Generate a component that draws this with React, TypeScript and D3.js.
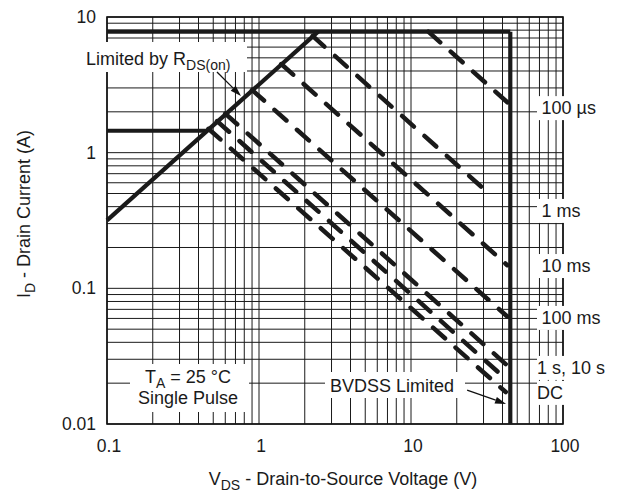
import React from 'react';
import * as d3 from 'd3';

const width = 618;
const height = 495;
const plot = { left: 107, right: 563, top: 17, bottom: 424 };
const font = '"Liberation Sans", Arial, Helvetica, sans-serif';

// axis ranges and tick labels
const xDomain: [number, number] = [0.1, 100];
const yDomain: [number, number] = [0.01, 10];
const xTickValues = [0.1, 1, 10, 100];
const xTickLabels = ['0.1', '1', '10', '100'];
const yTickValues = [10, 1, 0.1, 0.01];
const yTickLabels = ['10', '1', '0.1', '0.01'];

// solid limit lines, points are [Vds (V), Id (A)]
const currentLimitTop = [[0.1, 7.8], [45, 7.8]];
const bvdssLimit = [[45, 7.8], [45, 0.01]];
const currentLimitLow = [[0.1, 1.45], [0.457, 1.45]];
const rdsOnLimit = [[0.1, 0.317], [2.45, 7.8]];

// pulse lines (dashed)
const pulseNames = ['100 µs', '1 ms', '10 ms', '100 ms', '1 s', '10 s', 'DC'];
const pulseStart = [[13, 7.8], [2.25, 7.25], [1.4, 4.5], [0.9, 2.9], [0.6, 1.94], [0.53, 1.71], [0.465, 1.5]];
const pulseEnd = [[44, 2.3], [30.7, 0.53], [43, 0.148], [43, 0.062], [43, 0.027], [43, 0.021], [42, 0.0172]];

// labels at the right side, placed at Id
const curveLabels = ['100 µs', '1 ms', '10 ms', '100 ms', '1 s, 10 s', 'DC'];
const curveLabelId = [2.13, 0.372, 0.146, 0.0605, 0.0259, 0.01695];

// annotation arrows
const rdsArrow = [[0.529, 3.93], [0.761, 2.62]];
const bvdssArrow = [[23.4, 0.0178], [42.2, 0.01406]];

const x = d3.scaleLog().domain(xDomain).range([plot.left, plot.right]);
const y = d3.scaleLog().domain(yDomain).range([plot.bottom, plot.top]);

const line = d3
  .line<number[]>()
  .x((d) => x(d[0]))
  .y((d) => y(d[1]));

const Arrow = ({ pts }: { pts: number[][] }) => {
  const x1 = x(pts[0][0]);
  const y1 = y(pts[0][1]);
  const x2 = x(pts[1][0]);
  const y2 = y(pts[1][1]);
  const a = Math.atan2(y2 - y1, x2 - x1);
  const len = 11;
  const half = 3.5;
  const bx = x2 - len * Math.cos(a);
  const by = y2 - len * Math.sin(a);
  const head = [
    [x2, y2],
    [bx + half * Math.sin(a), by - half * Math.cos(a)],
    [bx - half * Math.sin(a), by + half * Math.cos(a)],
  ];
  return (
    <g>
      <line x1={x1} y1={y1} x2={bx} y2={by} stroke="#111" strokeWidth={1.3} />
      <polygon points={head.map((p) => p.join(',')).join(' ')} fill="#111" />
    </g>
  );
};

export default function App() {
  const xGrid = x.ticks();
  const yGrid = y.ticks();

  return (
    <svg
      width={width}
      height={height}
      style={{ position: 'absolute', left: 0, top: 0, background: '#fff' }}
      fontFamily={font}
    >
      <rect x={0} y={0} width={width} height={height} fill="#fff" />
      {/* grid */}
      <g stroke="#1a1a1a" strokeWidth={1}>
        {xGrid.map((v, i) => (
          <line key={'gx' + i} x1={x(v)} x2={x(v)} y1={plot.top} y2={plot.bottom} />
        ))}
        {yGrid.map((v, i) => (
          <line key={'gy' + i} x1={plot.left} x2={plot.right} y1={y(v)} y2={y(v)} />
        ))}
      </g>
      <rect
        x={plot.left}
        y={plot.top}
        width={plot.right - plot.left}
        height={plot.bottom - plot.top}
        fill="none"
        stroke="#111"
        strokeWidth={1.6}
      />

      {/* white label boxes */}
      <g fill="#fff">
        <rect x={82} y={42} width={165} height={30} />
        <rect x={130} y={364} width={119} height={48} />
        <rect x={325} y={372} width={140} height={26} />
        {curveLabels.map((t, i) => (
          <rect
            key={'lb' + i}
            x={537}
            y={y(curveLabelId[i]) - 12}
            width={i >= 4 ? 68 : 64}
            height={24}
          />
        ))}
      </g>

      {/* limits */}
      <g stroke="#1a1a1a" strokeWidth={4.2} fill="none" strokeLinecap="butt">
        <path d={line(currentLimitTop) || ''} />
        <path d={line(bvdssLimit) || ''} />
        <path d={line(currentLimitLow) || ''} />
        <path d={line(rdsOnLimit) || ''} />
      </g>

      {/* pulse lines */}
      <g stroke="#1a1a1a" strokeWidth={4.5} fill="none" strokeLinecap="round" strokeDasharray="16 14">
        {pulseNames.map((n, i) => (
          <path key={n} d={line([pulseStart[i], pulseEnd[i]]) || ''} />
        ))}
      </g>

      {/* tick labels */}
      <g fontSize={17.5} fill="#1a1a1a">
        {xTickValues.map((v, i) => (
          <text key={'xt' + i} x={x(v) + 2} y={452} textAnchor="middle">
            {xTickLabels[i]}
          </text>
        ))}
        {yTickValues.map((v, i) => (
          <text key={'yt' + i} x={96} y={y(v)} textAnchor="end" dominantBaseline="central">
            {yTickLabels[i]}
          </text>
        ))}
      </g>

      {/* axis titles */}
      <text x={343} y={485} textAnchor="middle" fontSize={18} fill="#1a1a1a">
        V<tspan fontSize={14} dy={5}>DS</tspan>
        <tspan dy={-5}> - Drain-to-Source Voltage (V)</tspan>
      </text>
      <text
        transform="translate(30,214) rotate(-90)"
        textAnchor="middle"
        fontSize={18}
        fill="#1a1a1a"
      >
        I<tspan fontSize={14} dy={5}>D</tspan>
        <tspan dy={-5}> - Drain Current (A)</tspan>
      </text>

      {/* annotations */}
      <g fontSize={18} fill="#1a1a1a">
        <text x={86} y={65}>
          Limited by R<tspan fontSize={14} dy={5}>DS(on)</tspan>
        </text>
        <text x={188} y={383} textAnchor="middle">
          T<tspan fontSize={14} dy={5}>A</tspan>
          <tspan dy={-5}> = 25 °C</tspan>
        </text>
        <text x={188} y={403.5} textAnchor="middle">
          Single Pulse
        </text>
        <text x={330} y={392}>BVDSS Limited</text>
        {curveLabels.map((t, i) => (
          <text
            key={'cl' + i}
            x={i >= 4 ? 537 : 541.5}
            y={y(curveLabelId[i])}
            dominantBaseline="central"
          >
            {t}
          </text>
        ))}
      </g>
      <Arrow pts={rdsArrow} />
      <Arrow pts={bvdssArrow} />
    </svg>
  );
}
